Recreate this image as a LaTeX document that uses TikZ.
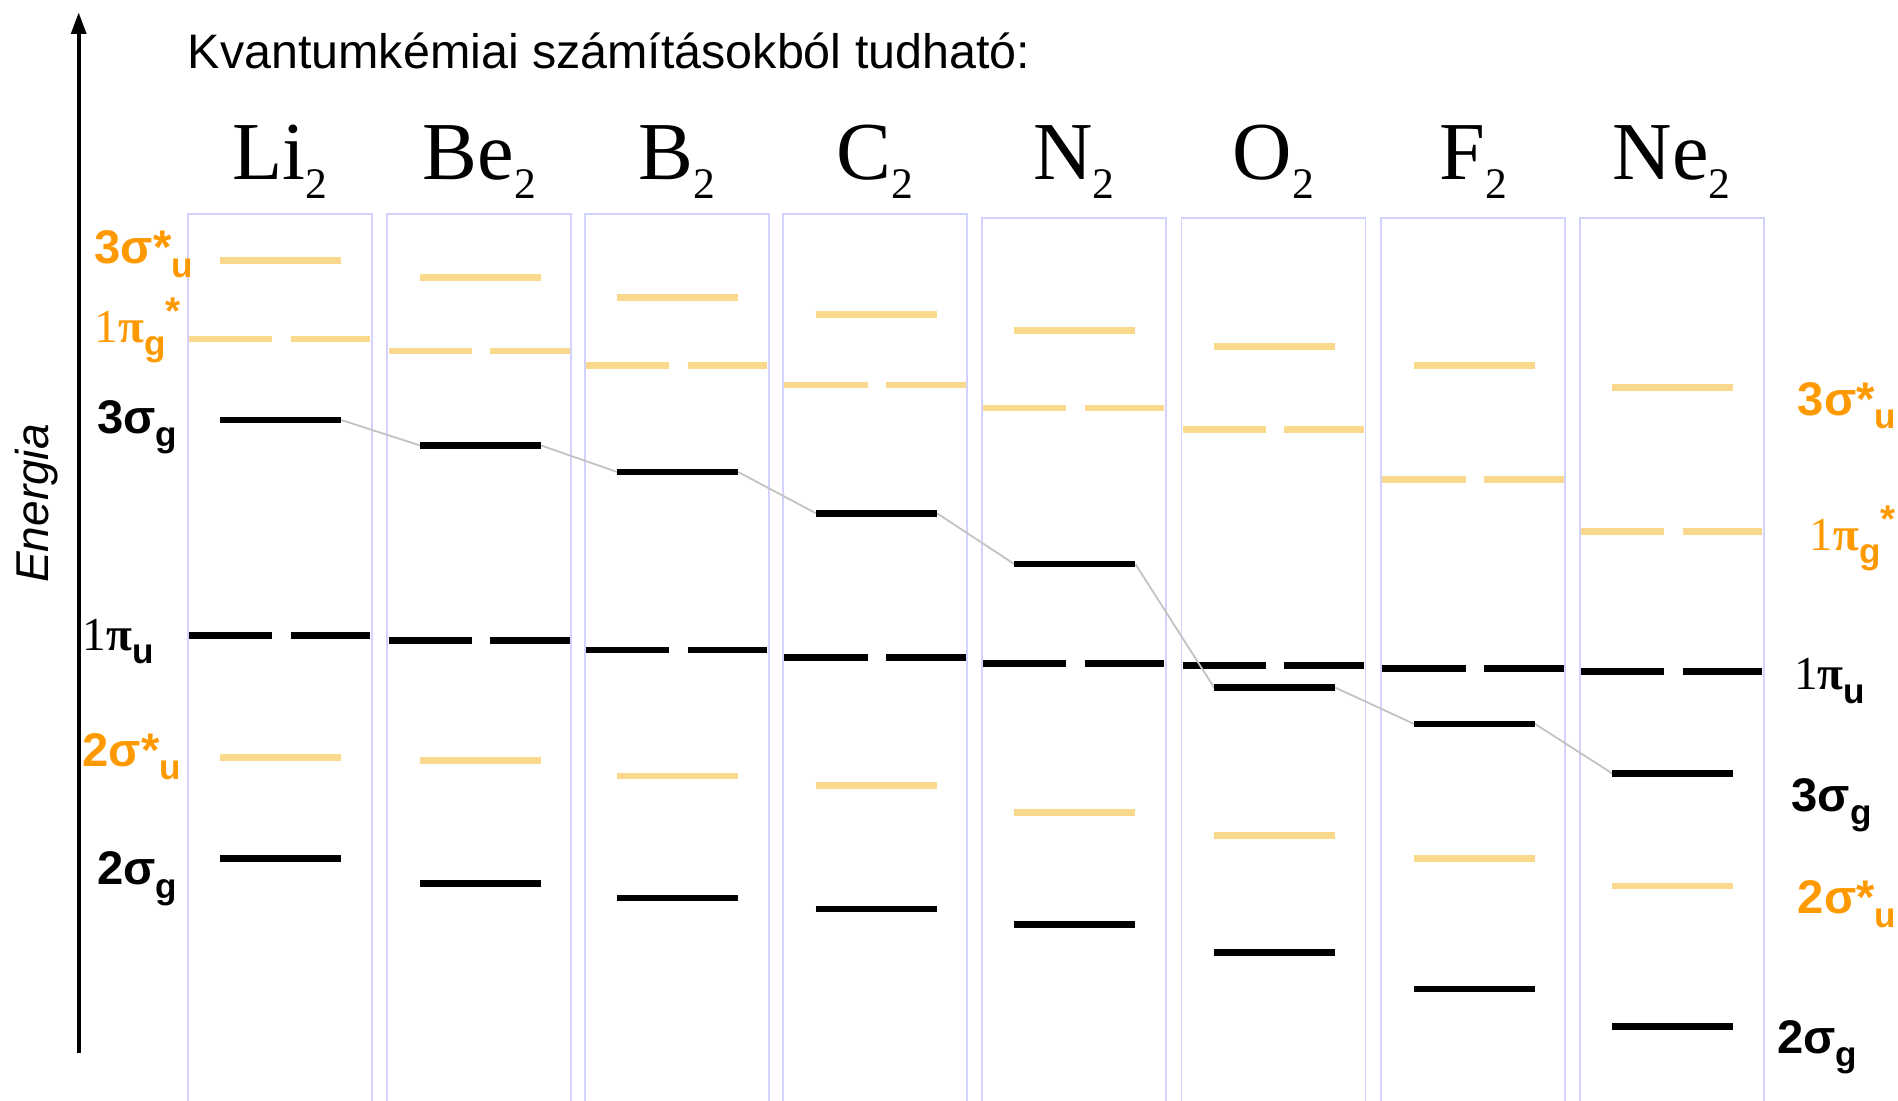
\documentclass[tikz,border=0pt]{standalone}
\usepackage{fontspec}
\setmainfont{Liberation Serif}
\setsansfont{Liberation Sans}
\usetikzlibrary{arrows.meta}

\definecolor{lvl}{RGB}{250,217,140}
\definecolor{lab}{RGB}{255,153,0}
\definecolor{frame}{RGB}{210,210,255}
\definecolor{corr}{RGB}{195,195,195}

% lowered / raised small bold sans indices for orbital symbols
\newcommand{\lo}[1]{\raisebox{-0.28em}{\fontsize{29}{29}\selectfont\sffamily\bfseries #1}}
\newcommand{\hi}[1]{\raisebox{0.38em}{\fontsize{32}{32}\selectfont\sffamily\bfseries #1}}
% serif "1" followed by a heavy pi
\newcommand{\onepi}{1{\bfseries π}}

\tikzset{
  framebox/.style={draw=frame, line width=1.5pt},
  occ/.style={draw=black, line width=5.5pt},
  virt/.style={draw=lvl, line width=5.5pt},
  corrline/.style={draw=corr, line width=1.5pt},
  sglab/.style={font=\fontsize{39}{39}\selectfont\sffamily\bfseries, anchor=base west, inner sep=0pt},
  pilab/.style={font=\fontsize{39}{39}\selectfont\rmfamily, anchor=base west, inner sep=0pt},
  mol/.style={font=\fontsize{68}{68}\selectfont\rmfamily, anchor=base, inner sep=0pt},
}

\begin{document}
\begin{tikzpicture}[x=1pt, y=-1pt]
\useasboundingbox (0,0) rectangle (1568,909);

% energy axis
\coordinate (axis-start) at (65,870);
\coordinate (axis-end) at (65,10);
\draw[line width=3.5pt, -{Triangle[length=18pt,width=12pt]}] (axis-start) -- (axis-end);
\node[font=\fontsize{38}{38}\selectfont\sffamily\itshape, rotate=90, inner sep=0pt] (ylabel) at (30,416) {Energia};

\node[font=\fontsize{40}{40}\selectfont\sffamily, anchor=base west, inner sep=0pt] (title) at (155,57) {Kvantumkémiai számításokból tudható:};

% one column per molecule: name / left edge / top / 3su* / 1pg* / 3sg / 1pu / 2su* / 2sg
\foreach \n/\x/\t/\a/\b/\c/\d/\e/\f in {
  Li/155/177/215/280/347/525/626/709,
  Be/320/177/229/290/368/529/628/730,
  B/483/177/246/302/390/537/641/742,
  C/647/177/260/318/424/543/649/751,
  N/811/180/273/337/466/548/671/764,
  O/976/180/286/355/568/550/690/787,
  F/1141/180/302/396/598/552/709/817,
  Ne/1305/180/320/439/639/555/732/848}{
  \draw[framebox] (\x,912) -- (\x,\t) -- (\x+152,\t) -- (\x+152,912);
  \node[mol] (\n-name) at (\x+76,148) {\n\raisebox{-16pt}{\fontsize{36}{36}\selectfont 2}};
  \coordinate (\n-sgL) at (\x+27,\c);
  \coordinate (\n-sgR) at (\x+127,\c);
  \draw[virt] (\x+27,\a) -- (\x+127,\a);
  \draw[virt] (\x+1,\b) -- (\x+70,\b) (\x+85,\b) -- (\x+151,\b);
  \draw[occ] (\x+1,\d) -- (\x+70,\d) (\x+85,\d) -- (\x+151,\d);
  \draw[virt] (\x+27,\e) -- (\x+127,\e);
  \draw[occ] (\x+27,\f) -- (\x+127,\f);
}

% correlation line of the 3sigma_g level
\foreach \p/\q in {Li/Be, Be/B, B/C, C/N, N/O, O/F, F/Ne}{
  \draw[corrline] (\p-sgR) -- (\q-sgL);
}
\foreach \n in {Li, Be, B, C, N, O, F, Ne}{
  \draw[occ] (\n-sgL) -- (\n-sgR);
}

% level labels, left
\node[sglab, text=lab] (l3su) at (78,218) {3σ*\lo{u}};
\node[pilab, text=lab] (l1pg) at (78,283) {\onepi\lo{g}\hi{*}};
\node[sglab] (l3sg) at (80,358) {3σ\lo{g}};
\node[pilab] (l1pu) at (68,537) {\onepi\lo{u}};
\node[sglab, text=lab] (l2su) at (68,633) {2σ*\lo{u}};
\node[sglab] (l2sg) at (80,731) {2σ\lo{g}};

% level labels, right
\node[sglab, text=lab] (r3su) at (1485,343) {3σ*\lo{u}};
\node[pilab, text=lab] (r1pg) at (1495,455) {\onepi\lo{g}\hi{*}};
\node[pilab] (r1pu) at (1482,570) {\onepi\lo{u}};
\node[sglab] (r3sg) at (1480,670) {3σ\lo{g}};
\node[sglab, text=lab] (r2su) at (1485,755) {2σ*\lo{u}};
\node[sglab] (r2sg) at (1468,870) {2σ\lo{g}};
\end{tikzpicture}
\end{document}
